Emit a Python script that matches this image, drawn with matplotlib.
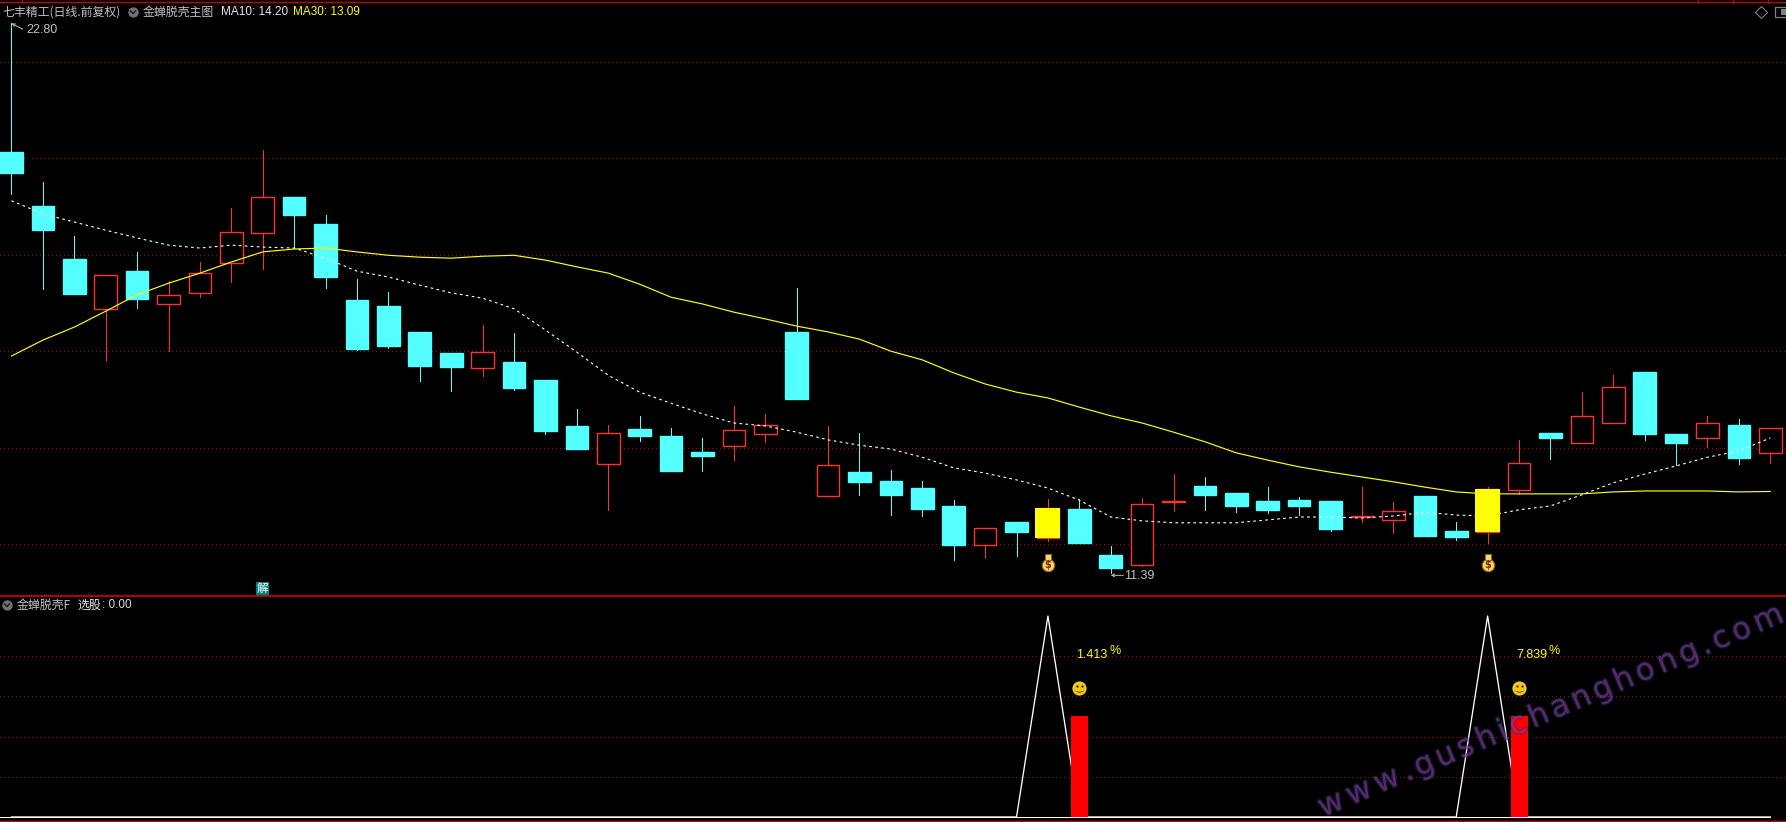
"""
K-line chart with MA lines and a lower signal panel
"""
import matplotlib
matplotlib.use('Agg')
import matplotlib.pyplot as plt
import matplotlib.patheffects as pe
from matplotlib.textpath import TextPath
from matplotlib.font_manager import FontProperties
from matplotlib.transforms import offset_copy

# candle data
highs = [22.80, 19.51, 18.39, 17.58, 18.06, 17.46, 17.85, 18.97, 20.17, 19.20,
         18.83, 17.50, 17.23, 16.40, 15.96, 16.54, 16.38, 15.40, 14.80, 14.47,
         14.66, 14.41, 14.20, 14.86, 14.70, 17.31, 14.45, 14.30, 13.54, 13.31,
         12.91, 12.33, 12.46, 12.93, 12.93, 11.96, 12.95, 13.45, 13.39, 13.06,
         13.18, 12.97, 12.89, 13.18, 12.87, 12.99, 12.46, 13.18, 14.16, 14.30,
         15.15, 15.50, 15.57, 14.28, 14.66, 14.59, 14.41]
body_tops = [20.13, 19.01, 17.91, 17.58, 17.66, 17.17, 17.62, 18.47, 19.20, 19.20,
             18.64, 17.06, 16.94, 16.40, 15.96, 15.98, 15.78, 15.40, 14.45, 14.30,
             14.39, 14.24, 13.91, 14.36, 14.46, 16.40, 13.63, 13.49, 13.31, 13.16,
             12.79, 12.33, 12.46, 12.75, 12.73, 11.77, 12.84, 12.89, 13.20, 13.06,
             12.89, 12.91, 12.89, 12.58, 12.68, 12.99, 12.27, 13.14, 13.69, 14.30,
             14.65, 15.25, 15.57, 14.28, 14.50, 14.47, 14.41]
body_bottoms = [19.70, 18.51, 17.19, 16.88, 17.08, 16.98, 17.20, 17.84, 18.45, 18.83,
                17.54, 16.05, 16.11, 15.69, 15.67, 15.65, 15.24, 14.34, 13.97, 13.65,
                14.24, 13.51, 13.83, 14.04, 14.29, 15.01, 13.00, 13.29, 13.02, 12.73,
                11.98, 11.98, 12.25, 12.12, 12.02, 11.50, 11.57, 12.87, 13.02, 12.79,
                12.70, 12.79, 12.31, 12.55, 12.50, 12.17, 12.15, 12.25, 13.13, 14.20,
                14.10, 14.52, 14.28, 14.10, 14.20, 13.78, 13.89]
lows = [19.26, 17.29, 17.19, 15.82, 16.90, 16.00, 17.12, 17.44, 17.71, 18.16,
        17.31, 16.03, 16.07, 15.38, 15.17, 15.49, 15.20, 14.28, 13.97, 12.70,
        14.14, 13.51, 13.51, 13.74, 14.12, 15.01, 13.00, 13.02, 12.60, 12.58,
        11.67, 11.71, 11.75, 12.06, 12.02, 11.39, 11.54, 12.69, 12.70, 12.66,
        12.64, 12.60, 12.27, 12.46, 12.23, 12.17, 12.08, 12.02, 13.04, 13.76,
        14.10, 14.51, 14.16, 13.64, 14.01, 13.66, 13.68]
red_days = [3, 5, 6, 7, 8, 15, 19, 23, 24, 26, 31, 33, 36, 37, 43, 44, 47, 48, 50, 51, 54, 56]
yellow_days = [33, 47]

ma10 = [19.12, 18.85, 18.68, 18.51, 18.35, 18.20, 18.14, 18.20, 18.16, 18.14,
        17.93, 17.66, 17.54, 17.37, 17.21, 17.10, 16.88, 16.44, 15.98, 15.50,
        15.15, 14.92, 14.70, 14.51, 14.45, 14.32, 14.16, 14.05, 13.97, 13.80,
        13.58, 13.47, 13.33, 13.16, 12.91, 12.56, 12.48, 12.44, 12.44, 12.44,
        12.50, 12.56, 12.56, 12.54, 12.58, 12.66, 12.60, 12.58, 12.71, 12.79,
        13.02, 13.27, 13.45, 13.62, 13.80, 13.93, 14.20]
ma30 = [15.90, 16.23, 16.50, 16.83, 17.17, 17.41, 17.62, 17.85, 18.06, 18.12,
        18.14, 18.06, 17.99, 17.95, 17.93, 17.97, 17.99, 17.89, 17.75, 17.62,
        17.39, 17.12, 16.98, 16.81, 16.67, 16.52, 16.40, 16.25, 16.00, 15.82,
        15.55, 15.32, 15.15, 15.03, 14.84, 14.66, 14.51, 14.32, 14.12, 13.89,
        13.74, 13.60, 13.49, 13.39, 13.29, 13.18, 13.08, 13.04, 13.04, 13.04,
        13.04, 13.08, 13.10, 13.10, 13.10, 13.08, 13.09]

price_grid = [12, 14, 16, 18, 20, 22]
signal_grid = [0.2, 0.4, 0.6, 0.8]

# lower panel
signal_peaks = [33, 47]
signal_bars = [34, 48]
signal_bar_value = 0.5
smile_value = 0.64
signal_pct = ['1.413', '7.839']
bag_price = 11.61

CYAN = '#54ffff'
RED = '#ff3232'
GRID = '#c00000'
BORDER = '#c80000'
W, H = 1786, 822
CJK = ['Noto Sans CJK SC', 'DejaVu Sans']
LATIN = 'Liberation Sans'

days = list(range(len(highs)))
signal_line = [1.0 if d in signal_peaks else 0.0 for d in days]

fig = plt.figure(figsize=(W / 100, H / 100), dpi=100, facecolor='black')
ax1 = fig.add_axes([0, 226 / H, 1, 596 / H], facecolor='black')
ax2 = fig.add_axes([0, 0, 1, 226 / H], facecolor='black')
for ax in (ax1, ax2):
    ax.set_xlim(-0.366, 56.5)
    ax.set_xticks([])
    ax.set_yticks([])
    for s in ax.spines.values():
        s.set_visible(False)
ax1.set_ylim(10.921, 23.286)
ax2.set_ylim(-0.025, 1.0995)

for v in price_grid:
    ax1.axhline(v, color=GRID, lw=0.72, ls=(0, (1, 3.6)), zorder=1, antialiased=False)
for v in signal_grid:
    ax2.axhline(v, color=GRID, lw=0.72, ls=(0, (1, 3.6)), zorder=1, antialiased=False)

# candles
for d in days:
    red = d in red_days
    color = RED if red else CYAN
    ax1.vlines(d, body_tops[d], highs[d], color=color, lw=0.7, zorder=2, antialiased=False)
    ax1.vlines(d, lows[d], body_bottoms[d], color=color, lw=0.7, zorder=2, antialiased=False)
    ax1.bar(d, body_tops[d] - body_bottoms[d], bottom=body_bottoms[d], width=0.72,
            facecolor='black' if red else CYAN, edgecolor=color, linewidth=1.0, zorder=3)

ax1.plot(days, ma30, color='#ffff00', lw=0.85, zorder=4)
ax1.plot(days, ma10, color='white', lw=0.8, ls=(0, (2.4, 3)), zorder=4)

for d in yellow_days:
    ax1.bar(d, body_tops[d] - body_bottoms[d], bottom=body_bottoms[d], width=0.8,
            color='#ffff00', linewidth=0, zorder=5)
    # money bag
    ax1.scatter([d], [bag_price - 0.04], s=80, color='#f6d860', edgecolors='#8a6a10', linewidths=0.8, zorder=5)
    ax1.scatter([d], [bag_price + 0.12], s=18, marker='s', color='#f6d860', edgecolors='#8a6a10', linewidths=0.6, zorder=5)
    ax1.text(d, bag_price - 0.05, '$', color='#8a2020', fontsize=7, fontweight='bold',
             ha='center', va='center', zorder=6)

# high / low labels
ax1.annotate('', xy=(0.0, 22.80), xytext=(0.36, 22.68),
             arrowprops=dict(arrowstyle='->', color='#c0c0c0', lw=0.7, mutation_scale=5, shrinkA=0, shrinkB=0))
ax1.text(0.46, 22.67, '22.80', color='#c0c0c0', fontsize=9, family=LATIN, va='center', ha='left')
ax1.annotate('', xy=(35.0, 11.35), xytext=(35.4, 11.35),
             arrowprops=dict(arrowstyle='->', color='#c0c0c0', lw=0.7, mutation_scale=5, shrinkA=0, shrinkB=0))
ax1.text(35.42, 11.33, '11.39', color='#c0c0c0', fontsize=9, family=LATIN, va='center', ha='left')

ax1.text(8, 11.07, '解', color='white', fontsize=8.5, family=CJK, ha='center', va='center', zorder=7,
         bbox=dict(boxstyle='square,pad=0.06', facecolor='#008080', edgecolor='none'))

# lower panel
ax2.plot(days, signal_line, color='white', lw=0.95, zorder=3)
ax2.hlines(0, -0.366, days[-1], color='white', lw=0.72, zorder=3, antialiased=False)
ax2.bar(signal_bars, [signal_bar_value] * len(signal_bars), width=0.54, color='#ff0000', zorder=4)
for d, pct in zip(signal_bars, signal_pct):
    ax2.scatter([d], [smile_value], s=105, color='#f2c81e', linewidths=0, zorder=5)
    for dx in (-2.5, 2.5):
        eye = offset_copy(ax2.transData, fig=fig, x=dx, y=2, units='dots')
        ax2.plot([d], [smile_value], marker='o', ms=1.7, mew=0, color='#4a3500', transform=eye, zorder=6)
    mouth = offset_copy(ax2.transData, fig=fig, x=0, y=-2.5, units='dots')
    ax2.plot([d], [smile_value], marker='$\\smile$', ms=7, mew=0, color='#4a3500', transform=mouth, zorder=6)
    ax2.text(d - 0.09, 0.805, pct, color='#ffff00', fontsize=9, family=LATIN, ha='left', va='center', zorder=6)
    ax2.text(d + 0.95, 0.825, '%', color='#ffff00', fontsize=9, family=LATIN, ha='left', va='center', zorder=6)

# borders
ax2.axhline(1.0995, color=BORDER, lw=1.3, zorder=8, clip_on=False)
fig.add_artist(plt.Line2D([0, 1], [1 - 2.5 / H, 1 - 2.5 / H], color=BORDER, lw=1.0))
fig.add_artist(plt.Line2D([0, 1], [1 / H, 1 / H], color=BORDER, lw=1.0))
for tx in [22, 1698, 1733, 1768]:
    fig.add_artist(plt.Line2D([tx / W, tx / W], [1 - 3 / H, 1], color=BORDER, lw=0.8))


def put(x, y, s, color, size=8.5, family=LATIN):
    fig.text(x / W, 1 - y / H, s, color=color, fontsize=size, family=family, ha='left', va='center')


def chevron(x, y):
    fig.add_artist(plt.Line2D([x / W], [1 - y / H], marker='o', ms=7.5, color='#707070', mew=0))
    fig.add_artist(plt.Line2D([(x - 2.5) / W, x / W, (x + 2.5) / W],
                              [1 - (y - 1) / H, 1 - (y + 1.5) / H, 1 - (y - 1) / H], color='#1a1a1a', lw=1.0))


# header texts
put(2, 12, '七丰精工(日线.前复权)', '#c0c0c0', 8.6, CJK)
chevron(133, 12)
put(143, 12, '金蝉脱壳主图', '#c0c0c0', 8.6, CJK)
put(221, 12, 'MA10: 14.20', '#e8e8e8')
put(293, 12, 'MA30: 13.09', '#ffff00')
chevron(7, 605)
put(17, 605, '金蝉脱壳F', '#c0c0c0', 8.6, CJK)
put(77, 605, '选股', '#e8e8e8', 8.6, CJK)
put(102, 605, ': 0.00', '#d8d8d8')

# top right icons
fig.add_artist(plt.Line2D([1761 / W], [1 - 12.5 / H], marker='D', ms=6.5, mfc='none', mec='#808080', mew=0.8))
fig.add_artist(plt.Rectangle((1775 / W, 1 - 17.5 / H), 14 / W, 10 / H, fill=False, ec='#808080', lw=0.9))
fig.add_artist(plt.Rectangle((1781 / W, 1 - 15.5 / H), 5 / W, 6 / H, color='#808080', lw=0))

# watermark, each letter placed along the slanted line
mark = 'www.gushichanghong.com'
fp = FontProperties(family='DejaVu Sans', size=22)
start = (1323, 817)
end = (1783, 622)
length = ((end[0] - start[0]) ** 2 + (end[1] - start[1]) ** 2) ** 0.5
widths = [TextPath((0, 0), c, prop=fp).get_extents().x1 * 100 / 72 for c in mark]
gap = (length - sum(widths)) / (len(mark) - 1)
pos = 0.0
for c, w in zip(mark, widths):
    f = pos / length
    fig.text((start[0] + f * (end[0] - start[0])) / W, 1 - (start[1] + f * (end[1] - start[1])) / H, c,
             color='#b04090', alpha=0.26, fontproperties=fp, rotation=23.0, rotation_mode='anchor',
             ha='left', va='baseline', zorder=20,
             path_effects=[pe.withStroke(linewidth=1.8, foreground='#283080', alpha=0.4)])
    pos += w + gap

plt.savefig('out.png', dpi=100, facecolor='black')
